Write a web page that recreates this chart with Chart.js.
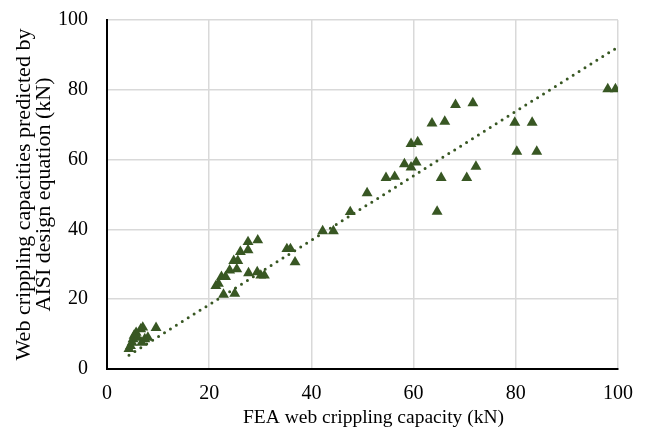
<!DOCTYPE html>
<html>
<head>
<meta charset="utf-8">
<script src="https://cdn.jsdelivr.net/npm/chart.js@4/dist/chart.umd.min.js"></script>
<style>
  html, body { margin: 0; padding: 0; background: #fff; }
  #wrap { width: 646px; height: 439px; }
</style>
</head>
<body>
<div id="wrap"><canvas id="c" width="646" height="439"></canvas></div>
<script>
// FEA web crippling capacity (kN)
const feaCapacity = [
  4.3, 4.6, 4.9, 5.1, 5.3, 5.7, 6.0, 6.6, 7.0, 6.8, 7.4, 8.0, 9.6,
  21.3, 21.8, 22.4, 23.2, 24.0, 25.4, 24.8, 25.6, 26.1, 27.6, 27.6, 29.5,
  27.7, 29.4, 30.1, 30.8, 22.8, 25.0,
  35.2, 35.9, 36.8, 42.2, 44.3, 47.6, 50.9,
  54.6, 56.3, 58.2, 59.5, 60.5, 59.5, 60.8, 63.6, 66.1, 68.2, 71.6,
  65.4, 70.4, 72.2, 64.6,
  79.8, 83.2, 80.2, 84.1, 98.0, 99.5
];

// Capacities predicted by the AISI design equation (kN)
const aisiCapacity = [
  5.8, 6.6, 7.6, 8.6, 9.6, 10.4, 9.0, 11.4, 11.9, 7.6, 8.6, 9.0, 11.8,
  23.8, 24.5, 26.4, 26.4, 28.3, 28.6, 31.0, 31.0, 33.6, 34.1, 36.4, 36.9,
  27.5, 27.8, 26.8, 26.8, 21.3, 21.6,
  34.4, 34.4, 30.6, 39.5, 39.5, 45.0, 50.4,
  54.8, 55.1, 58.7, 57.8, 59.2, 64.5, 65.0, 70.4, 70.9, 75.7, 76.2,
  54.8, 54.8, 58.0, 45.1,
  70.6, 70.6, 62.3, 62.3, 80.2, 80.2
];

const axisTicks = [0, 20, 40, 60, 80, 100];

const xTitle = 'FEA web crippling capacity (kN)';
const yTitle = ['Web crippling capacities predicted by', 'AISI design equation (kN)'];

const green = '#385723';
const serif = '"Liberation Serif", "Times New Roman", serif';

// Least-squares linear trendline with its intercept fixed at zero
function slopeThroughOrigin(xs, ys) {
  let sxx = 0, sxy = 0;
  for (let i = 0; i < xs.length; i++) {
    sxx += xs[i] * xs[i];
    sxy += xs[i] * ys[i];
  }
  return sxy / sxx;
}
const slope = slopeThroughOrigin(feaCapacity, aisiCapacity);
const xMin = Math.min(...feaCapacity);
const xMax = Math.max(...feaCapacity);
const trend = [xMin, xMax].map(x => ({ x, y: slope * x }));

const points = feaCapacity.map((x, i) => ({ x, y: aisiCapacity[i] }));

const tickFont = { family: serif, size: 20 };
const xTitleFont = { family: serif, size: 19.5 };
const yTitleFont = { family: serif, size: 22, lineHeight: 0.91 };

// Draws the x-axis title a little right of the plot centre
const xTitlePlugin = {
  id: 'xTitle',
  afterDraw(chart) {
    const { ctx, chartArea } = chart;
    ctx.save();
    ctx.font = `${xTitleFont.size}px ${xTitleFont.family}`;
    ctx.fillStyle = '#000';
    ctx.textAlign = 'center';
    ctx.textBaseline = 'alphabetic';
    ctx.fillText(xTitle, (chartArea.left + chartArea.right) / 2 + 11, 423);
    ctx.restore();
  }
};

new Chart(document.getElementById('c'), {
  type: 'scatter',
  data: {
    datasets: [
      {
        label: 'Trend',
        type: 'line',
        data: trend,
        borderColor: green,
        borderWidth: 3,
        borderDash: [0, 7],
        borderCapStyle: 'round',
        pointRadius: 0,
        fill: false,
        order: 2
      },
      {
        label: 'AISI',
        data: points,
        pointStyle: 'triangle',
        pointRadius: 6.3,
        pointBackgroundColor: green,
        pointBorderColor: green,
        pointBorderWidth: 0,
        order: 1
      }
    ]
  },
  plugins: [xTitlePlugin],
  options: {
    responsive: false,
    animation: false,
    events: [],
    layout: { padding: { top: 20, right: 28, left: 0, bottom: 0 } },
    plugins: { legend: { display: false }, tooltip: { enabled: false } },
    scales: {
      x: {
        type: 'linear',
        min: 0, max: 100,
        afterBuildTicks: s => { s.ticks = axisTicks.map(v => ({ value: v })); },
        afterFit: s => { s.height = 70; },
        grid: { color: '#d9d9d9', lineWidth: 1.5, drawTicks: false },
        border: { color: '#000', width: 2 },
        ticks: { font: tickFont, color: '#000', padding: 13, maxRotation: 0 }
      },
      y: {
        type: 'linear',
        min: 0, max: 100,
        afterBuildTicks: s => { s.ticks = axisTicks.map(v => ({ value: v })); },
        afterFit: s => { s.width = 107; s.paddingTop = 0; s.paddingBottom = 0; },
        grid: { color: '#d9d9d9', lineWidth: 1.5, drawTicks: false },
        border: { color: '#000', width: 2 },
        ticks: { font: tickFont, color: '#000', padding: 19 },
        title: { display: true, text: yTitle, font: yTitleFont, color: '#000', padding: { top: 14, bottom: 0 } }
      }
    }
  }
});
</script>
</body>
</html>
